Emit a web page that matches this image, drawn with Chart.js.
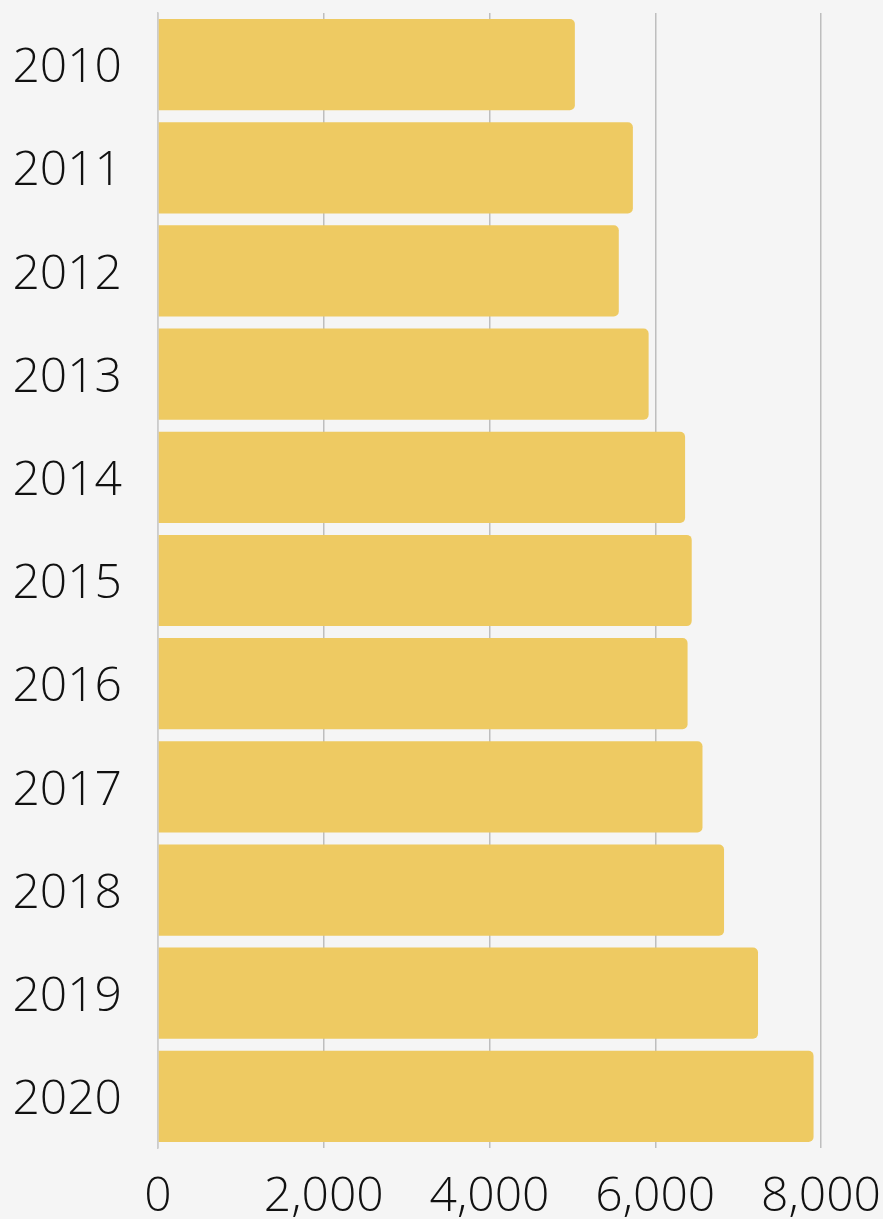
<!DOCTYPE html>
<html>
<head>
<meta charset="utf-8">
<script src="https://cdn.jsdelivr.net/npm/chart.js@4"></script>
<style>
  html, body { margin: 0; padding: 0; background: #f5f5f5; }
  #wrap { width: 883px; height: 1219px; position: relative; }
</style>
</head>
<body>
<div id="wrap"><canvas id="bar-chart"></canvas></div>
<script>
    var years = ['2010', '2011', '2012', '2013', '2014', '2015', '2016', '2017', '2018', '2019', '2020'];
    var values = [5030, 5730, 5560, 5920, 6360, 6440, 6390, 6570, 6830, 7240, 7910];
    var xTicks = [0, 2000, 4000, 6000, 8000];

    var barColor = '#eeca62',
        gridColor = '#bebebe',
        axisColor = '#cccccc',
        textColor = '#111111';

    function draw() {
        Chart.defaults.font.family = "'Open Sans', sans-serif";
        Chart.defaults.font.weight = 300;
        Chart.defaults.font.size = 48;
        Chart.defaults.color = textColor;

        var ctx = document.getElementById('bar-chart').getContext('2d');
        new Chart(ctx, {
            type: 'bar',
            data: {
                labels: years,
                datasets: [{
                    data: values,
                    backgroundColor: barColor,
                    borderWidth: 0,
                    borderRadius: 5,
                    borderSkipped: 'start',
                    categoryPercentage: 1,
                    barPercentage: 0.884
                }]
            },
            options: {
                indexAxis: 'y',
                responsive: true,
                maintainAspectRatio: false,
                animation: false,
                layout: { padding: { top: 13, left: 15, right: 0, bottom: 0 } },
                plugins: {
                    legend: { display: false },
                    tooltip: { enabled: false }
                },
                scales: {
                    x: {
                        min: 0,
                        max: 8000,
                        afterBuildTicks: function (axis) {
                            axis.ticks = xTicks.map(function (v) { return { value: v }; });
                        },
                        afterFit: function (s) {
                            s.height = 71;
                            s.paddingLeft = 0;
                            s.paddingRight = 62;
                        },
                        grid: { color: gridColor, lineWidth: 1.5, drawTicks: false },
                        border: { display: false },
                        ticks: {
                            padding: 21,
                            callback: function (v) { return v.toLocaleString('en-US'); }
                        }
                    },
                    y: {
                        afterFit: function (s) {
                            s.width = 143;
                            s.paddingTop = 0;
                            s.paddingBottom = 0;
                        },
                        grid: { display: false, drawTicks: false },
                        border: { display: true, color: axisColor, width: 1.5 },
                        ticks: { padding: 36, labelOffset: 4 }
                    }
                }
            }
        });
    }

    if (document.fonts && document.fonts.load) {
        document.fonts.load("300 48px 'Open Sans'").then(draw, draw);
    } else {
        draw();
    }
</script>
</body>
</html>
